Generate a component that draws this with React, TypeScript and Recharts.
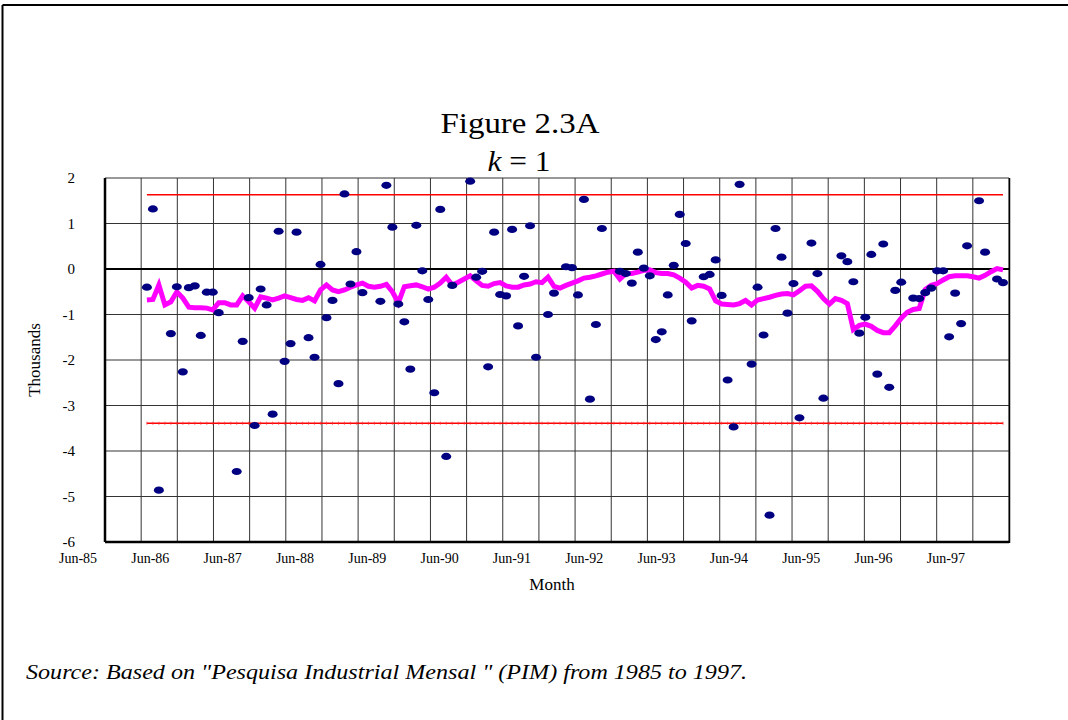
import { ComposedChart, Line, XAxis, YAxis, CartesianGrid, ReferenceLine } from "recharts";

const SERIF = '"Liberation Serif", "Times New Roman", serif';

// Jun-85 .. Jun-97, one label per 12 months of the grid axis
const xTickLabels = [
  "Jun-85", "Jun-86", "Jun-87", "Jun-88", "Jun-89", "Jun-90", "Jun-91",
  "Jun-92", "Jun-93", "Jun-94", "Jun-95", "Jun-96", "Jun-97",
];
const gridMonths = [0, 6, 12, 18, 24, 30, 36, 42, 48, 54, 60, 66, 72, 78, 84, 90, 96, 102, 108, 114, 120, 126, 132, 138, 144, 150];
const yTicks = [-6, -5, -4, -3, -2, -1, 0, 1, 2];

// monthly observations (thousands), null where no point shows
const observed = [
  -0.40, 1.32, -4.86, null, -1.42, -0.39, -2.26, -0.41, -0.37, -1.46,
  -0.51, -0.51, -0.96, null, null, -4.45, -1.59, -0.63, -3.44, -0.44,
  -0.79, -3.19, 0.83, -2.03, -1.64, 0.81, null, -1.51, -1.94, 0.10,
  -1.07, -0.69, -2.52, 1.65, -0.33, 0.38, -0.52, null, null, -0.71,
  1.84, 0.92, -0.77, -1.16, -2.20, 0.96, -0.04, -0.67, -2.72, 1.31,
  -4.12, -0.36, null, null, 1.93, -0.18, -0.05, -2.15, 0.81, -0.56,
  -0.59, 0.87, -1.25, -0.16, 0.95, -1.94, null, -1.00, -0.53, null,
  0.05, 0.03, -0.57, 1.53, -2.86, -1.22, 0.89, null, null, -0.05,
  -0.10, -0.31, 0.37, 0.02, -0.15, -1.55, -1.38, -0.57, 0.08, 1.20,
  0.56, -1.14, null, -0.17, -0.12, 0.20, -0.58, -2.44, -3.47, 1.86,
  null, -2.09, -0.40, -1.45, -5.41, 0.89, 0.26, -0.97, -0.32, -3.27,
  null, 0.57, -0.10, -2.84, null, null, 0.29, 0.16, -0.28, -1.41,
  -1.06, 0.32, -2.31, 0.55, -2.60, -0.47, -0.29, null, -0.64, -0.65,
  -0.52, -0.42, -0.04, -0.04, -1.49, -0.53, -1.20, 0.51, null, 1.50,
  0.37, null, -0.22, -0.30,
];

// smoothed series (magenta)
const trend = [
  -0.68, -0.67, -0.35, -0.79, -0.72, -0.50, -0.64, -0.84, -0.85, -0.85,
  -0.86, -0.90, -0.74, -0.74, -0.79, -0.79, -0.59, -0.72, -0.86, -0.61,
  -0.64, -0.68, -0.64, -0.59, -0.63, -0.67, -0.69, -0.63, -0.70, -0.46,
  -0.35, -0.46, -0.50, -0.46, -0.40, -0.35, -0.31, -0.38, -0.40, -0.38,
  -0.34, -0.50, -0.74, -0.39, -0.37, -0.35, -0.39, -0.44, -0.40, -0.31,
  -0.18, -0.35, -0.29, -0.22, -0.15, -0.26, -0.36, -0.38, -0.32, -0.30,
  -0.37, -0.40, -0.40, -0.35, -0.33, -0.28, -0.30, -0.18, -0.38, -0.42,
  -0.36, -0.31, -0.26, -0.20, -0.18, -0.15, -0.11, -0.07, -0.05, -0.22,
  -0.10, -0.10, -0.07, -0.03, -0.02, -0.08, -0.10, -0.10, -0.13, -0.20,
  -0.29, -0.42, -0.36, -0.38, -0.44, -0.70, -0.77, -0.78, -0.79, -0.76,
  -0.69, -0.79, -0.68, -0.65, -0.62, -0.58, -0.55, -0.54, -0.57, -0.48,
  -0.38, -0.37, -0.49, -0.65, -0.77, -0.65, -0.69, -0.76, -1.33, -1.24,
  -1.21, -1.26, -1.35, -1.40, -1.40, -1.25, -1.08, -0.95, -0.89, -0.87,
  -0.45, -0.36, -0.32, -0.24, -0.17, -0.15, -0.15, -0.15, -0.17, -0.20,
  -0.14, -0.06, 0.01, -0.02,
];

const UPPER_LIMIT = 1.63;
const LOWER_LIMIT = -3.39;

const rows = observed.map((v, i) => ({
  idx: i,
  month: i + 7,
  observed: v,
  trend: trend[i],
  upper: UPPER_LIMIT,
  lower: LOWER_LIMIT,
}));

function MonthTick(props: any) {
  const { x, y, payload } = props;
  const v = payload.value as number;
  if (v % 12 !== 0) return <g />;
  return (
    <text x={x - 27} y={y + 21} textAnchor="middle" fontFamily={SERIF} fontSize={14} fill="#000">
      {xTickLabels[v / 12]}
    </text>
  );
}

function EllipseDot(props: any) {
  const { cx, cy, index } = props;
  if (cx == null || cy == null || observed[index] == null) return <g key={index} />;
  return <ellipse key={index} cx={cx} cy={cy} rx={5} ry={3.6} fill="#000080" />;
}

function TickDot(props: any) {
  const { cx, cy, index } = props;
  if (cx == null || cy == null) return <g key={index} />;
  return <line key={index} x1={cx} x2={cx} y1={cy - 1.5} y2={cy + 1.5} stroke="#ff3030" strokeWidth={0.8} />;
}

export default function App() {
  return (
    <div style={{ position: "absolute", left: 0, top: 0, width: 1068, height: 720, background: "#fff" }}>
      <ComposedChart
        width={1068}
        height={720}
        data={rows}
        margin={{ top: 178, right: 59, bottom: 148, left: 0 }}
      >
        <CartesianGrid stroke="#333" strokeWidth={1} />
        <XAxis
          type="number"
          dataKey="month"
          domain={[0, 150]}
          ticks={gridMonths}
          allowDataOverflow
          interval={0}
          height={30}
          tickSize={0}
          tickMargin={0}
          tick={<MonthTick />}
          axisLine={{ stroke: "#000", strokeWidth: 2.5 }}
          tickLine={false}
        />
        <XAxis xAxisId="d" type="number" dataKey="idx" domain={[-7, 144]} allowDataOverflow hide />
        <YAxis
          type="number"
          domain={[-6, 2]}
          ticks={yTicks}
          interval={0}
          width={105}
          tickSize={0}
          tickMargin={30}
          tickLine={false}
          axisLine={{ stroke: "#000", strokeWidth: 2.5 }}
          tick={{ fill: "#000", fontSize: 15, fontFamily: SERIF }}
        />
        <ReferenceLine y={0} stroke="#000" strokeWidth={2} />
        <Line xAxisId="d" dataKey="upper" stroke="#ff0000" strokeWidth={1.5} dot={false} activeDot={false} isAnimationActive={false} />
        <Line xAxisId="d" dataKey="lower" stroke="#ff0000" strokeWidth={1.5} dot={<TickDot />} activeDot={false} isAnimationActive={false} />
        <Line xAxisId="d" dataKey="observed" stroke="none" dot={<EllipseDot />} activeDot={false} connectNulls={false} isAnimationActive={false} />
        <Line xAxisId="d" type="linear" dataKey="trend" stroke="#ff00ff" strokeWidth={5} dot={false} activeDot={false} isAnimationActive={false} />
      </ComposedChart>

      <svg width={1068} height={720} style={{ position: "absolute", left: 0, top: 0, pointerEvents: "none" }}>
        <line x1={2.5} y1={5} x2={1068} y2={5} stroke="#000" strokeWidth={2} />
        <line x1={2.5} y1={5} x2={2.5} y2={720} stroke="#000" strokeWidth={2} />
        <line x1={1009.5} y1={178} x2={1009.5} y2={543} stroke="#000" strokeWidth={1.5} />
        <text x={520} y={133} textAnchor="middle" fontFamily={SERIF} fontSize={29} textLength={159} lengthAdjust="spacingAndGlyphs">
          Figure 2.3A
        </text>
        <text x={519} y={171} textAnchor="middle" fontFamily={SERIF} fontSize={29} textLength={63} lengthAdjust="spacingAndGlyphs">
          <tspan fontStyle="italic">k</tspan> = 1
        </text>
        <text x={34} y={360} textAnchor="middle" dominantBaseline="central" fontFamily={SERIF} fontSize={17} transform="rotate(-90 34 360)">
          Thousands
        </text>
        <text x={552} y={590} textAnchor="middle" fontFamily={SERIF} fontSize={17}>
          Month
        </text>
        <text x={26} y={679} fontFamily={SERIF} fontSize={20} fontStyle="italic" textLength={721} lengthAdjust="spacingAndGlyphs">
          Source: Based on "Pesquisa Industrial Mensal " (PIM) from 1985 to 1997.
        </text>
      </svg>
    </div>
  );
}
